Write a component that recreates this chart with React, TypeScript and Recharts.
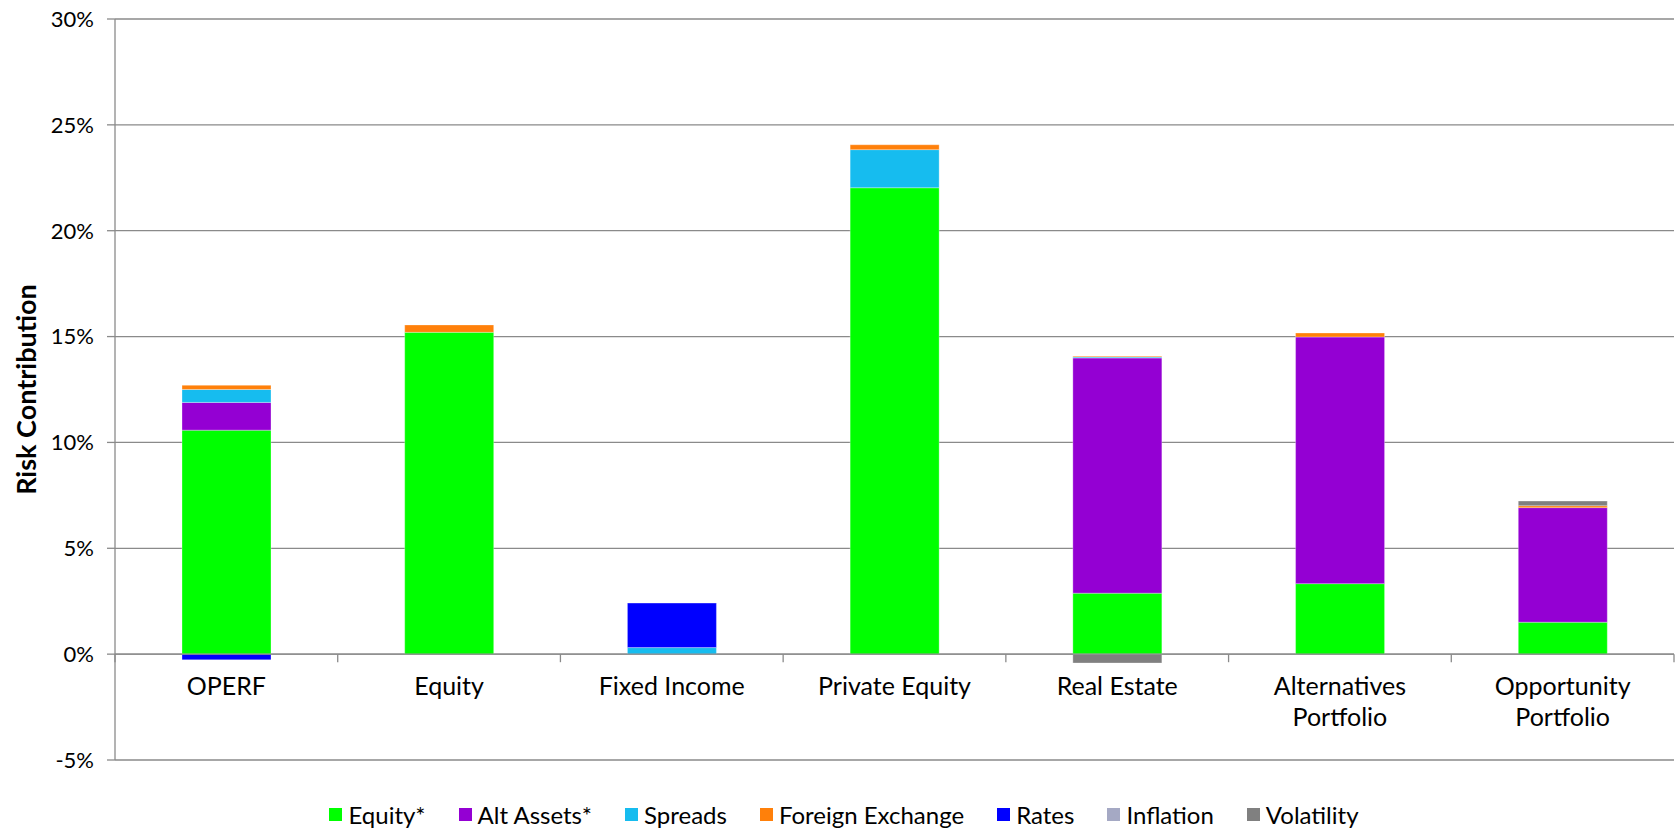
import React from "react"
import { Bar, BarChart, CartesianGrid, Legend, ReferenceLine, XAxis, YAxis } from "recharts"

// categories and tick labels (two-line labels split on "\n")
const categories = [
  "OPERF",
  "Equity",
  "Fixed Income",
  "Private Equity",
  "Real Estate",
  "Alternatives\nPortfolio",
  "Opportunity\nPortfolio",
]

// risk contribution, in %
const equity = [10.58, 15.2, 0, 22.03, 2.88, 3.33, 1.51]
const altAssets = [1.31, 0, 0, 0, 11.11, 11.65, 5.41]
const spreads = [0.61, 0, 0.31, 1.8, 0.04, 0, 0]
const foreignExchange = [0.2, 0.35, 0, 0.23, 0.04, 0.19, 0.09]
const rates = [-0.27, 0, 2.1, 0, 0, 0, 0]
const inflation = [0, 0, 0, 0, 0, 0, 0]
const volatility = [0, 0, 0, 0, -0.42, 0, 0.22]

const yTicks = [-5, 0, 5, 10, 15, 20, 25, 30]

const series = [
  { key: "equity", name: "Equity*", color: "#00ff00", values: equity },
  { key: "altAssets", name: "Alt Assets*", color: "#9400d3", values: altAssets },
  { key: "spreads", name: "Spreads", color: "#16bcef", values: spreads },
  { key: "fx", name: "Foreign Exchange", color: "#ff800a", values: foreignExchange },
  { key: "rates", name: "Rates", color: "#0000ff", values: rates },
  { key: "inflation", name: "Inflation", color: "#a5a9c4", values: inflation },
  { key: "volatility", name: "Volatility", color: "#808080", values: volatility },
]

const data = categories.map((name, i) => {
  const row: Record<string, number | string> = { name }
  series.forEach((s) => {
    row[s.key] = s.values[i]
  })
  return row
})

const FONT = "Lato, 'Open Sans', sans-serif"
const GRID = "#8a8a8a"
const WIDTH = 1677
const HEIGHT = 829
const MARGIN = { top: 19, right: 3, left: 0, bottom: 0 }
const Y_WIDTH = 115
const HALF_BAND = (WIDTH - Y_WIDTH - MARGIN.left - MARGIN.right) / categories.length / 2
// distance from bottom of plot (-5%) up to the 0% line
const ZERO_UP = 105.8

function CategoryTick(props: any) {
  const { x, y, payload, index } = props
  const half = payload && payload.offset ? payload.offset : HALF_BAND
  const lines = String(payload.value).split("\n")
  const zeroY = y - ZERO_UP
  return (
    <g>
      {index === 0 && (
        <line x1={x - half} x2={x - half} y1={zeroY} y2={zeroY + 8} stroke={GRID} strokeWidth={1.3} />
      )}
      <line x1={x + half} x2={x + half} y1={zeroY} y2={zeroY + 8} stroke={GRID} strokeWidth={1.3} />
      <text x={x} y={zeroY + 41} textAnchor="middle" fill="#000" fontSize={25} fontFamily={FONT}>
        {lines.map((l, i) => (
          <tspan key={i} x={x} dy={i === 0 ? 0 : 31}>
            {l}
          </tspan>
        ))}
      </text>
    </g>
  )
}

// legend keeps the series order (recharts would sort it by name)
function LegendContent() {
  return (
    <div
      style={{
        display: "flex",
        justifyContent: "center",
        alignItems: "center",
        gap: 33,
        height: 30,
        paddingLeft: 14,
        fontFamily: FONT,
        fontSize: 24,
        color: "#000",
      }}
    >
      {series.map((s) => (
        <div key={s.key} style={{ display: "flex", alignItems: "center" }}>
          <span style={{ width: 13, height: 13, background: s.color, marginRight: 6, display: "inline-block" }} />
          <span>{s.name}</span>
        </div>
      ))}
    </div>
  )
}

export default function App() {
  return (
    <div style={{ position: "absolute", left: 0, top: 0, width: WIDTH, height: HEIGHT, background: "#fff" }}>
      <BarChart width={WIDTH} height={HEIGHT} data={data} margin={MARGIN} stackOffset="sign" barSize={89}>
        <CartesianGrid vertical={false} stroke={GRID} strokeWidth={1.3} />
        <XAxis
          dataKey="name"
          axisLine={false}
          tickLine={false}
          tickSize={0}
          tickMargin={0}
          height={39}
          interval={0}
          tick={<CategoryTick />}
        />
        <YAxis
          width={Y_WIDTH}
          domain={[-5, 30]}
          ticks={yTicks}
          interval={0}
          tickFormatter={(v) => `${v}%`}
          axisLine={{ stroke: GRID, strokeWidth: 1.3 }}
          tickLine={{ stroke: GRID, strokeWidth: 1.3 }}
          tickSize={8}
          tickMargin={13}
          tick={{ fill: "#000", fontSize: 22, fontFamily: FONT }}
          label={{
            content: (p: any) => {
              const vb = p.viewBox || { x: 0, y: 19, height: 741 }
              const cx = vb.x + 25
              const cy = vb.y + vb.height / 2
              return (
                <text
                  x={cx}
                  y={cy}
                  transform={`rotate(-90 ${cx} ${cy})`}
                  textAnchor="middle"
                  dominantBaseline="central"
                  fontFamily={FONT}
                  fontWeight="bold"
                  fontSize={27}
                  fill="#000"
                >
                  Risk Contribution
                </text>
              )
            },
          }}
        />
        {series.map((s) => (
          <Bar
            key={s.key}
            dataKey={s.key}
            name={s.name}
            stackId="risk"
            fill={s.color}
            stroke="#ffffff"
            strokeOpacity={0.3}
            strokeWidth={1}
            isAnimationActive={false}
          />
        ))}
        <ReferenceLine y={0} stroke={GRID} strokeWidth={1.3} />
        <Legend verticalAlign="bottom" content={<LegendContent />} />
      </BarChart>
    </div>
  )
}
